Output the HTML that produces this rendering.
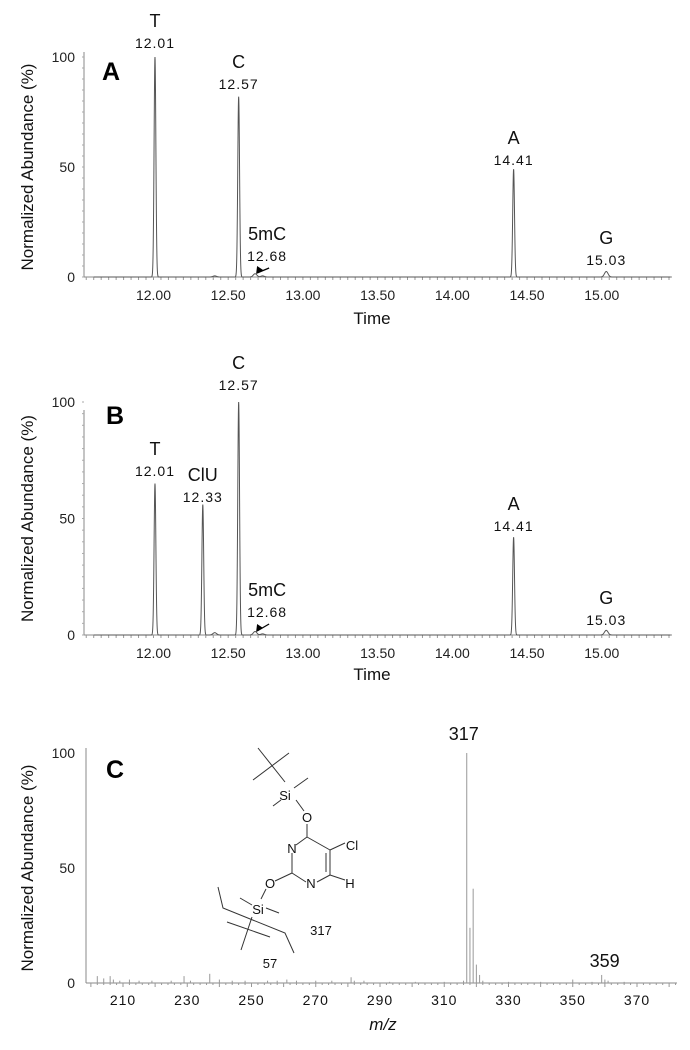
<!DOCTYPE html>
<html><head><meta charset="utf-8">
<style>
body{margin:0;background:#fff;}
svg{display:block;font-family:"Liberation Sans",sans-serif;}
.tk{font-size:14px;fill:#222;}
.pl{font-size:18px;fill:#111;}
.pn{font-size:14px;fill:#111;letter-spacing:1px;}
.yt{font-size:17px;fill:#111;}
.pan{font-size:25px;font-weight:bold;fill:#000;}
</style></head><body>
<svg id="fig" width="690" height="1050">
<g id="panelA"></g>
<g id="panelB"></g>
<g id="panelC"></g>
<g id="structure" stroke="#333" stroke-width="1" fill="none">
<line x1="258" y1="748" x2="285" y2="782"/><line x1="253" y1="780" x2="289" y2="753"/>
<line x1="294" y1="788" x2="308" y2="778"/><line x1="273" y1="806" x2="281" y2="800"/>
<line x1="296" y1="800" x2="304" y2="811"/>
<line x1="307" y1="824" x2="307" y2="837"/>
<line x1="307" y1="837" x2="296" y2="845"/><line x1="307" y1="837" x2="330" y2="850"/>
<line x1="330" y1="850" x2="330" y2="875"/><line x1="326" y1="853" x2="326" y2="872"/>
<line x1="330" y1="875" x2="317" y2="882"/><line x1="306" y1="882" x2="292" y2="873"/>
<line x1="292" y1="873" x2="292" y2="853"/>
<line x1="330" y1="850" x2="345" y2="843"/><line x1="330" y1="875" x2="345" y2="880"/>
<line x1="292" y1="873" x2="275" y2="881"/>
<line x1="266" y1="889" x2="261" y2="899"/>
<line x1="240" y1="898" x2="252" y2="905"/><line x1="266" y1="908" x2="279" y2="913"/>
<polyline points="218,887 223,908 285,933 294,953"/>
<line x1="227" y1="922" x2="270" y2="937"/>
<line x1="252" y1="917" x2="241" y2="950"/>
</g>
<g font-size="13" fill="#111">
<text x="285" y="800" text-anchor="middle">Si</text>
<text x="307" y="822" text-anchor="middle">O</text>
<text x="292" y="853" text-anchor="middle">N</text>
<text x="311" y="888" text-anchor="middle">N</text>
<text x="352" y="850" text-anchor="middle">Cl</text>
<text x="350" y="888" text-anchor="middle">H</text>
<text x="270" y="888" text-anchor="middle">O</text>
<text x="258" y="914" text-anchor="middle">Si</text>
<text x="321" y="935" text-anchor="middle">317</text>
<text x="270" y="968" text-anchor="middle">57</text>
</g>
</svg>
<script>
var NS="http://www.w3.org/2000/svg";
// Panel A data
var aRT=[12.01,12.41,12.57,12.68,12.73,14.41,15.03];
var aInt=[100,0.5,82,1.5,0.5,49,2.5];
var aLabels=["T","","C","5mC","","A","G"];
// Panel B data
var bRT=[12.01,12.33,12.41,12.57,12.68,12.73,14.41,15.03];
var bInt=[65,56,1,100,1.5,0.5,42,2];
var bLabels=["T","ClU","","C","5mC","","A","G"];
var timeTicks=[12.00,12.50,13.00,13.50,14.00,14.50,15.00];
var yTicks=[0,50,100];
// Panel C data
var cMZ=[202,204,206,207,209,212,215,219,225,229,231,237,240,244,248,255,258,261,264,270,275,281,282,285,293,301,310,316,317,318,319,320,321,322,330,340,350,356,359,360,361,366];
var cInt=[3,2,3,1.5,1,1.5,1,1,1,3,1,4,1.5,1,1,1,1,1.5,1,1,1,2.5,1,1,0.5,0.5,0.5,1,100,24,41,8,3.5,1,0.5,0.5,1.5,0.5,3.5,1.5,1,0.5];
var mzTicks=[210,230,250,270,290,310,330,350,370];

function el(tag,attrs,parent,txt){var e=document.createElementNS(NS,tag);for(var k in attrs)e.setAttribute(k,attrs[k]);if(txt!==undefined)e.textContent=txt;parent.appendChild(e);return e;}

function chrom(gid,rt,inten,labels,base,top,labelPos,letter,letterY,timeY){
  var g=document.getElementById(gid);
  var x0=84,x1=672,t0=11.535,t1=15.47;
  function X(t){return x0+(t-t0)/(t1-t0)*(x1-x0);}
  function Y(v){return base-v/100*(base-top);}
  var ax=el('line',{x1:x0,y1:base-225,x2:x0,y2:base,stroke:'#888','stroke-width':1},g);
  
  var bx=el('line',{x1:x0,y1:base,x2:x1,y2:base,stroke:'#888','stroke-width':1},g);
  
  for(var t=11.55;t<t1;t+=0.05){el('line',{x1:X(t),y1:base,x2:X(t),y2:base+3,stroke:'#999'},g);}
  for(var v=0;v<=100;v+=5){el('line',{x1:x0-2,y1:Y(v),x2:x0,y2:Y(v),stroke:'#aaa'},g);}
  timeTicks.forEach(function(t){var tx=el('text',{x:X(t),y:base+23,'text-anchor':'middle','class':'tk'},g,t.toFixed(2));});
  yTicks.forEach(function(v){var tx=el('text',{x:x0-9,y:Y(v)+5,'text-anchor':'end','class':'tk'},g,String(v));});
  var d='',sig=0.006;
  for(var t=11.6;t<=15.46;t+=0.001){
    var s=0;for(var i=0;i<rt.length;i++){var dt=t-rt[i];var sg=(inten[i]<5)?sig*2:sig;s+=inten[i]*Math.exp(-dt*dt/(2*sg*sg));}
    d+=(d?'L':'M')+X(t).toFixed(2)+','+Y(s).toFixed(2);
  }
  var p=el('path',{d:d,fill:'none',stroke:'#555','stroke-width':1},g);
  
  for(var i=0;i<rt.length;i++){
    if(!labels[i])continue;
    var lp=labelPos[labels[i]];
    var cx=X(rt[i])+(lp.dx||0);
    var l1=el('text',{x:cx,y:lp.y,'text-anchor':'middle','class':'pl'},g,labels[i]);
    
    var l2=el('text',{x:cx,y:lp.y+21,'text-anchor':'middle','class':'pn'},g,rt[i].toFixed(2));
    
    if(labels[i]==='5mC'){
      var ar=el('line',{x1:X(rt[i])+14,y1:lp.y+28,x2:X(rt[i])+2,y2:base-4,stroke:'#000','stroke-width':1.3},g);
      
      el('polygon',{points:(X(rt[i])+1)+','+(base-3)+' '+(X(rt[i])+2)+','+(base-11)+' '+(X(rt[i])+8)+','+(base-7),fill:'#000'},g);
    }
  }
  var pl=el('text',{x:letter[0],y:letterY,'class':'pan'},g,gid==='panelA'?'A':'B');
  
  var tt=el('text',{x:(x0+x1)/2-6,y:timeY,'text-anchor':'middle','class':'yt'},g,'Time');
  
  var yt=el('text',{x:0,y:0,'text-anchor':'middle','class':'yt',transform:'translate(33,'+(top+(base-top)/2)+') rotate(-90)'},g,'Normalized Abundance (%)');
  
}
chrom('panelA',aRT,aInt,aLabels,277,57,{T:{y:27},C:{y:68},'5mC':{y:240,dx:12},A:{y:144},G:{y:244}},[102],80,324);
chrom('panelB',bRT,bInt,bLabels,635,402,{T:{y:455},ClU:{y:481},C:{y:369},'5mC':{y:596,dx:12},A:{y:510},G:{y:604}},[106],424,680);

(function(){
  var g=document.getElementById('panelC');
  var x0=86,x1=677,base=983,top=753;
  function X(m){return 123+(m-210)*3.2125;}
  function Y(v){return base-v/100*(base-top);}
  var ax=el('line',{x1:x0,y1:base-235,x2:x0,y2:base,stroke:'#888'},g);
  
  var bx=el('line',{x1:x0,y1:base,x2:x1,y2:base,stroke:'#888'},g);
  
  for(var m=200;m<=382;m+=2){el('line',{x1:X(m),y1:base,x2:X(m),y2:base+(m%10===0?4:2),stroke:'#999'},g);}
  mzTicks.forEach(function(m){var tx=el('text',{x:X(m),y:base+22,'text-anchor':'middle','class':'pn'},g,String(m));});
  yTicks.forEach(function(v){var tx=el('text',{x:x0-11,y:Y(v)+5,'text-anchor':'end','class':'tk'},g,String(v));});
  for(var i=0;i<cMZ.length;i++){
    var b=el('line',{x1:X(cMZ[i]),y1:base,x2:X(cMZ[i]),y2:Y(cInt[i]),stroke:'#999','stroke-width':1},g);
    
  }
  var l1=el('text',{x:X(317)-3,y:top-13,'text-anchor':'middle','class':'pl'},g,'317');
  
  var l2=el('text',{x:X(359)+3,y:Y(3.5)-8,'text-anchor':'middle','class':'pl'},g,'359');
  
  var pl=el('text',{x:106,y:778,'class':'pan'},g,'C');
  
  var tt=el('text',{x:383,y:1030,'text-anchor':'middle','class':'yt','font-style':'italic'},g,'m/z');
  
  var yt=el('text',{x:0,y:0,'text-anchor':'middle','class':'yt',transform:'translate(33,868) rotate(-90)'},g,'Normalized Abundance (%)');
  
})();
</script>
</body></html>
